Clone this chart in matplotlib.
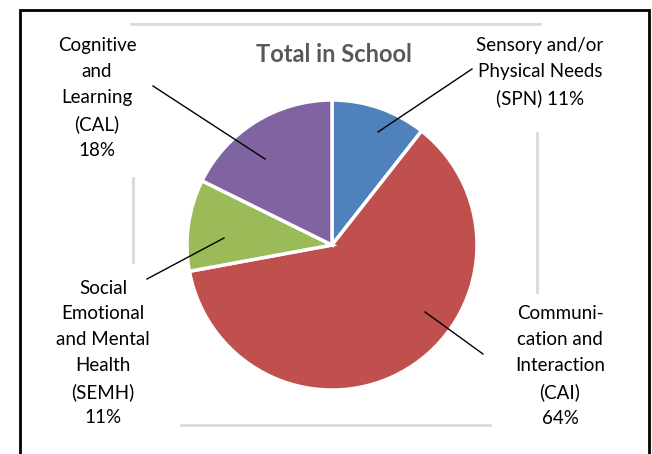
import matplotlib
matplotlib.use("Agg")
import matplotlib.pyplot as plt

# slice shares (clockwise from 12 o'clock)
categories = ["SPN", "CAI", "SEMH", "CAL"]
shares = [10.6, 61.5, 10.2, 17.7]
colors = ["#4F81BD", "#C0504D", "#9BBB59", "#8064A2"]
explode = [0, 0.03, 0, 0]
label_texts = [
    "Sensory and/or\nPhysical Needs\n(SPN) 11%",
    "Communi-\ncation and\nInteraction\n(CAI)\n64%",
    "Social\nEmotional\nand Mental\nHealth\n(SEMH)\n11%",
    "Cognitive\nand\nLearning\n(CAL)\n18%",
]

W, H = 652, 454
fig = plt.figure(figsize=(W / 100, H / 100), dpi=100)
ax = fig.add_axes([0, 0, 1, 1])
ax.set_xlim(0, W)
ax.set_ylim(0, H)
ax.set_aspect("equal")
ax.axis("off")

cx, cy, r = 332, H - 245, 145
wedges, _ = ax.pie(shares, colors=colors, startangle=90, counterclock=False,
                   explode=explode, center=(cx, cy), radius=r,
                   wedgeprops=dict(edgecolor="white", linewidth=2.5))
ax.set_xlim(0, W)
ax.set_ylim(0, H)

# outer frame (bottom runs off the image)
ax.plot([20, 20, 649, 649], [-5, H - 10, H - 10, -5], color="black", lw=2,
        solid_joinstyle="miter")

# faint grey rules left over from the chart area
grey = "#D9D9D9"
ax.plot([131, 540], [H - 24, H - 24], color=grey, lw=2)
ax.plot([181, 490], [H - 425, H - 425], color=grey, lw=2)
ax.plot([133, 133], [H - 178, H - 262], color=grey, lw=2)
ax.plot([537, 537], [H - 133, H - 292], color=grey, lw=2)

ax.text(334, H - 54, "Total in School", ha="center", va="center",
        fontsize=17, fontweight="bold", color="#595959", family="Lato")

# leader lines (slice point -> label)
leaders = [((378, 132), (472, 69)), ((425, 312), (483, 354)),
           ((224, 238), (147, 279)), ((265, 159), (153, 86))]
for (x0, y0), (x1, y1) in leaders:
    ax.plot([x0, x1], [H - y0, H - y1], color="black", lw=1)

label_pos = [(540, 72), (560, 366), (103, 353), (97, 98)]
for txt, (x, y) in zip(label_texts, label_pos):
    ax.text(x, H - y, txt, ha="center", va="center", fontsize=13.5,
            linespacing=1.62, color="black", family="Lato")

fig.savefig("out.png", dpi=100)
